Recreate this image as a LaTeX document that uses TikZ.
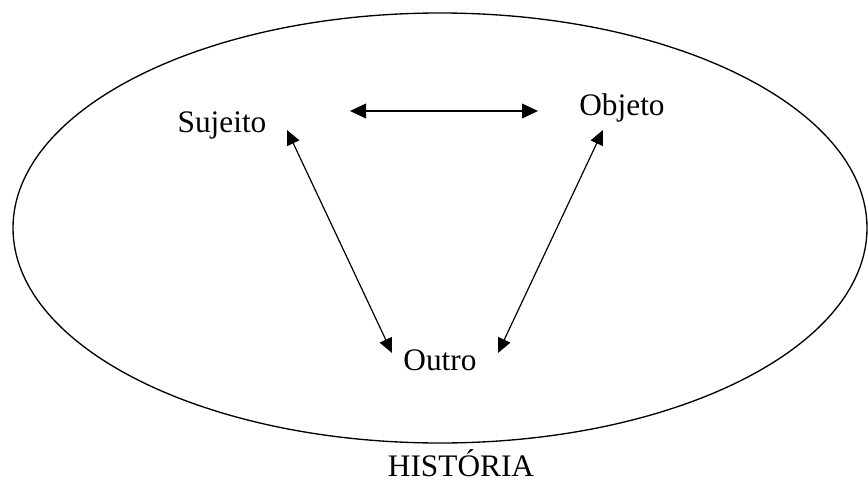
\documentclass[tikz,border=0pt]{standalone}
\usepackage{fontspec}
\setmainfont{Liberation Serif}
\usetikzlibrary{arrows.meta}

\tikzset{
  label text/.style={anchor=base, inner sep=0pt, font=\fontsize{23.5}{28}\selectfont},
  both tips/.style={{Triangle[length=12pt,width=11pt]}-{Triangle[length=12pt,width=11pt]}},
  thin tips/.style={{Triangle[length=11pt,width=10pt]}-{Triangle[length=11pt,width=10pt]}},
}

\begin{document}
\begin{tikzpicture}[x=0.75pt,y=0.75pt,yscale=-1,xscale=1]
\useasboundingbox (0,0) rectangle (868,482);

%Shape: Ellipse
\draw [line width=1] (440,228) ellipse [x radius=427, y radius=215];

% Text Node
\node (sujeito) [label text] at (222,132) {Sujeito};
% Text Node
\node (objeto) [label text] at (622,115) {Objeto};
% Text Node
\node (outro) [label text] at (440,370) {Outro};
% Text Node
\node (historia) [label text] at (461,476) {HISTÓRIA};

% arrow ends
\coordinate (sujR) at (350,111);
\coordinate (objL) at (538,111);
\coordinate (sujB) at (287,130);
\coordinate (outL) at (392,353);
\coordinate (objB) at (603,130);
\coordinate (outR) at (498,353);

%Straight Lines
\draw [both tips, line width=1.3] (sujR) -- (objL);
%Straight Lines
\draw [thin tips, line width=0.9] (sujB) -- (outL);
%Straight Lines
\draw [thin tips, line width=0.9] (objB) -- (outR);

\end{tikzpicture}
\end{document}
